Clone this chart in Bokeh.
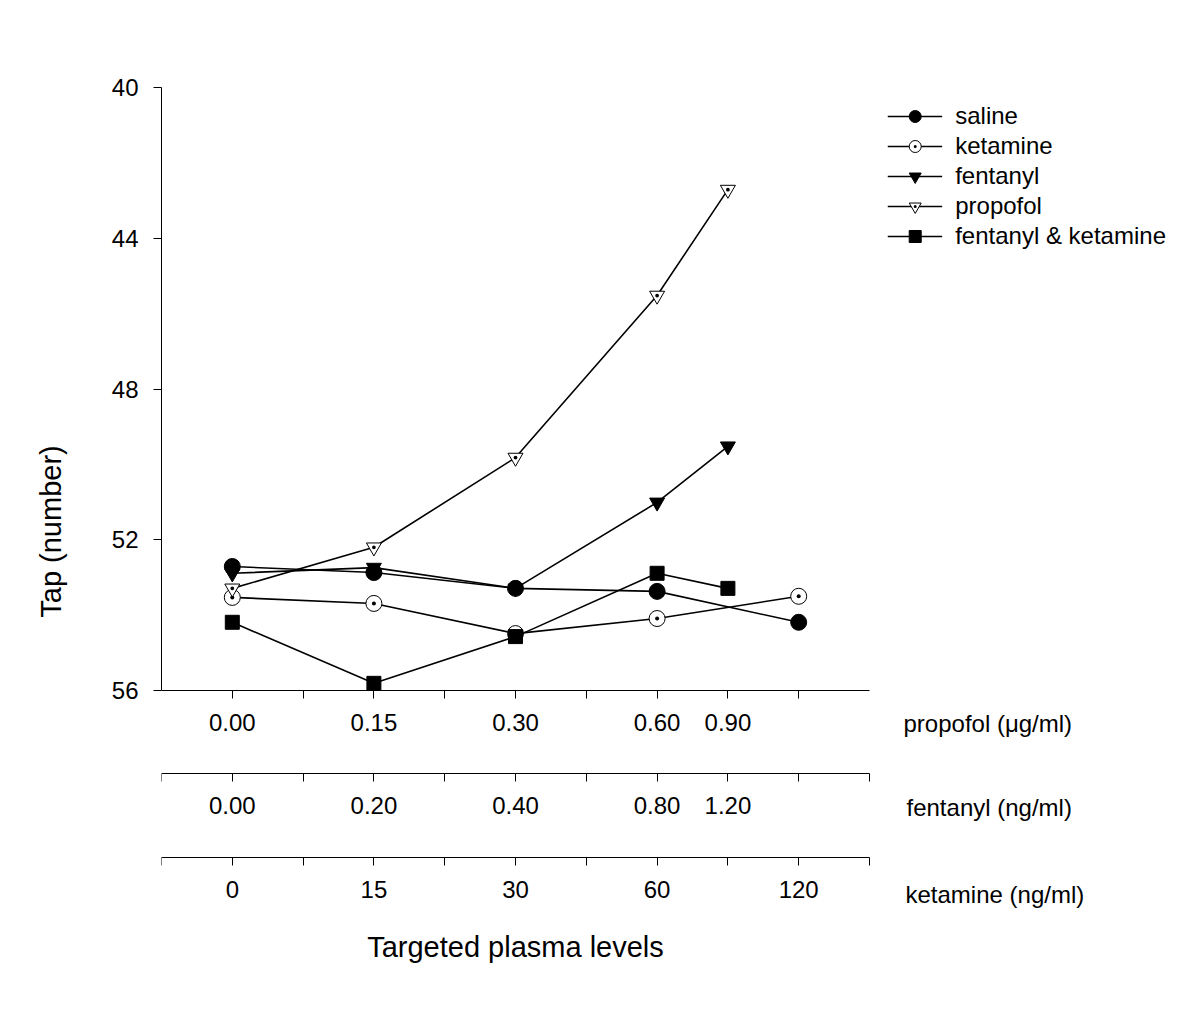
from bokeh.plotting import figure
from bokeh.models import Range1d, LinearAxis, FixedTicker, Legend, LegendItem, Label
from bokeh.embed import file_html
from bokeh.resources import INLINE

# ---------------- data ----------------
pos_long = [0, 1, 2, 3, 4]        # ketamine levels 0,15,30,60,120
pos_short = [0, 1, 2, 3, 3.5]     # propofol / fentanyl levels
propofol_labels = ["0.00", "0.15", "0.30", "0.60", "0.90"]
fentanyl_labels = ["0.00", "0.20", "0.40", "0.80", "1.20"]
ketamine_labels = ["0", "15", "30", "60", "120"]
y_ticks = [40, 44, 48, 52, 56]

saline = [52.71, 52.87, 53.29, 53.37, 54.19]
ketamine = [53.53, 53.69, 54.49, 54.09, 53.50]
fentanyl = [52.89, 52.74, 53.29, 51.01, 49.52]
propofol = [53.29, 52.20, 49.82, 45.52, 42.71]
fent_ket = [54.19, 55.81, 54.57, 52.89, 53.29]

# ---------------- layout ----------------
FONT = "Liberation Sans"
AX_W, AX_H = 708, 603          # px spanned by x -0.5..4.5 and y 40..56
FRAME_W, FRAME_H = 1019, 888
ux = 5.0 / AX_W                # data units per px
uy = 16.0 / AX_H

p = figure(frame_width=FRAME_W, frame_height=FRAME_H,
           min_border_left=161, min_border_top=87, min_border_right=6, min_border_bottom=10,
           x_range=Range1d(-0.5, -0.5 + FRAME_W * ux),
           y_range=Range1d(40 + FRAME_H * uy, 40),
           x_axis_type=None, y_axis_type=None,
           toolbar_location=None, output_backend="svg")
p.outline_line_color = None
p.background_fill_color = "white"
p.border_fill_color = "white"

# y axis
yax = LinearAxis(ticker=FixedTicker(ticks=y_ticks, minor_ticks=[]), bounds=(40, 56),
                 axis_label="Tap (number)")
yax.major_tick_out = 8
yax.major_tick_in = 0
yax.minor_tick_out = 0
yax.major_label_standoff = 15
yax.major_label_text_font = FONT
yax.major_label_text_font_size = "24px"
yax.major_label_text_color = "black"
yax.axis_label_text_font = FONT
yax.axis_label_text_font_size = "29px"
yax.axis_label_text_font_style = "normal"
yax.axis_label_text_color = "black"
yax.axis_label_standoff = 42
p.add_layout(yax, "left")

half_inner = [0, 0.5, 1, 1.5, 2, 2.5, 3, 3.5, 4]
half_full = [-0.5] + half_inner + [4.5]


def make_xaxis(ticks, label_pos, labels, loc, title=None):
    ov = {t: "" for t in ticks}
    for x, lab in zip(label_pos, labels):
        ov[x] = lab
    ax = LinearAxis(ticker=FixedTicker(ticks=ticks, minor_ticks=[]), bounds=(-0.5, 4.5),
                    fixed_location=loc, major_label_overrides=ov)
    ax.major_tick_out = 8
    ax.major_tick_in = 0
    ax.minor_tick_out = 0
    ax.major_label_standoff = 15
    ax.major_label_text_font = FONT
    ax.major_label_text_font_size = "24px"
    ax.major_label_text_color = "black"
    if title:
        ax.axis_label = title
        ax.axis_label_text_font = FONT
        ax.axis_label_text_font_size = "29px"
        ax.axis_label_text_font_style = "normal"
        ax.axis_label_text_color = "black"
        ax.axis_label_standoff = 30
    p.add_layout(ax, "below")
    return ax


make_xaxis(half_inner, pos_short, propofol_labels, 56)
make_xaxis(half_full, pos_short, fentanyl_labels, 56 + 83 * uy)
make_xaxis(half_full, pos_long, ketamine_labels, 56 + 167 * uy, "Targeted plasma levels")

# right-hand axis names
lab_x = -0.5 + (903 - 161) * ux
for txt, dx, dy in [("propofol (\u03bcg/ml)", 0, 33), ("fentanyl (ng/ml)", 3, 117), ("ketamine (ng/ml)", 2, 204)]:
    p.add_layout(Label(x=lab_x + dx * ux, y=56 + dy * uy, text=txt,
                       text_font=FONT, text_font_size="24px", text_baseline="middle",
                       text_align="left", text_color="black"))

# series
LW = 1.6
series = [
    ("saline", pos_long, saline, [dict(marker="circle", size=16, fill_color="black")]),
    ("ketamine", pos_long, ketamine, [dict(marker="circle_dot", size=16, fill_color="white")]),
    ("fentanyl", pos_short, fentanyl, [dict(marker="inverted_triangle", size=15, fill_color="black")]),
    ("propofol", pos_short, propofol, [dict(marker="inverted_triangle", size=15, fill_color="white"),
                                       dict(marker="dot", size=15, fill_color="black")]),
    ("fentanyl & ketamine", pos_short, fent_ket, [dict(marker="square", size=14, fill_color="black")]),
]
items = []
for name, xs, ys, mks in series:
    rs = [p.line(xs, ys, line_color="black", line_width=LW)]
    for mk in mks:
        rs.append(p.scatter(xs, ys, line_color="black", line_width=1, **mk))
    items.append(LegendItem(label=name, renderers=rs))

legend = Legend(items=items, location="top_right", margin=14, padding=11,
                border_line_color=None, background_fill_alpha=0,
                label_text_font=FONT, label_text_font_size="24px", label_text_color="black",
                glyph_width=55, glyph_height=30, label_standoff=13, spacing=0)
p.add_layout(legend)

open("out.html", "w").write(file_html(p, INLINE))
